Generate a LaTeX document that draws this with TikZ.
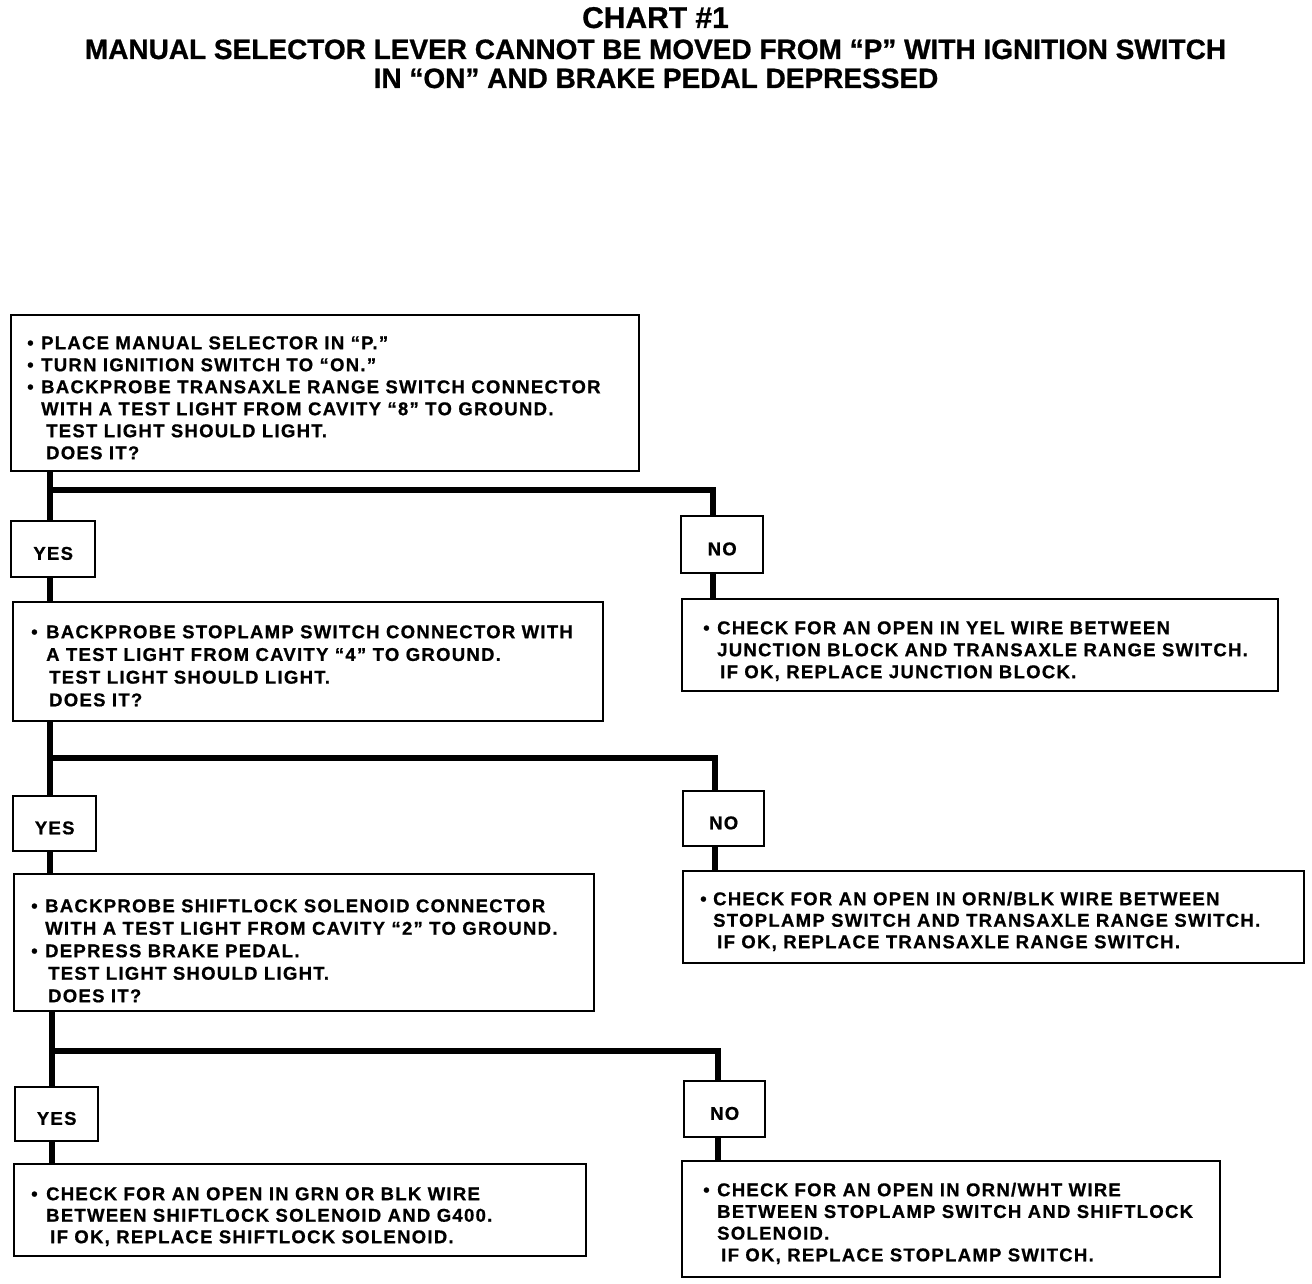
\documentclass[tikz,border=0pt]{standalone}
\usepackage{fontspec}
\setmainfont{Liberation Sans}
\newfontfamily\boxfont[LetterSpace=7.0,FakeBold=0.8]{Liberation Sans}
\newfontfamily\ttlfont[FakeBold=0.8]{Liberation Sans}
\newcommand\bul[2]{\hspace*{#1pt}\makebox[\dimexpr#2pt-#1pt\relax][l]{•}}
\newcommand\ind[1]{\hspace*{#1pt}}
% #1 height, #2 width, #3 top pad, #4 line spacing, #5 lines
\newcommand\btext[5]{\parbox[c][#1pt][t]{#2pt}{\boxfont\bfseries\fontsize{18.5}{#4}\selectfont\lineskiplimit=-50pt\relax\raggedright\parindent=0pt
\vspace*{#3pt}\rule{0pt}{14pt}#5\par}}
\newcommand\yntext[1]{\raisebox{-10.6pt}[0pt][0pt]{#1}}
\tikzset{
  bx/.style={draw, line width=2.4pt, inner sep=0pt, anchor=north west},
  yn/.style={draw, line width=2.4pt, inner sep=0pt, anchor=north west,
    font=\boxfont\bfseries\fontsize{18.5}{22}\selectfont},
  conn/.style={line width=5.5pt, line join=miter},
  ttl/.style={anchor=base, font=\ttlfont\bfseries\fontsize{28}{30}\selectfont},
}
\begin{document}
\begin{tikzpicture}[x=1pt,y=-1pt]
\useasboundingbox (0,0) rectangle (1312,1284);
% title
\node[ttl, font=\ttlfont\bfseries\fontsize{30}{32}\selectfont] (t0) at (655.5,28) {CHART \#1};
\node[ttl] (t1l) at (655.5,59) {MANUAL SELECTOR LEVER CANNOT BE MOVED FROM “P” WITH IGNITION SWITCH};
\node[ttl] (t2l) at (656,88) {IN “ON” AND BRAKE PEDAL DEPRESSED};

% boxes
\node[bx] (B1) at (10,314) {\btext{156}{628}{20}{22}{%
\bul{16}{30}PLACE MANUAL SELECTOR IN “P.”\\
\bul{16}{30}TURN IGNITION SWITCH TO “ON.”\\
\bul{16}{30}BACKPROBE TRANSAXLE RANGE SWITCH CONNECTOR\\
\ind{30}WITH A TEST LIGHT FROM CAVITY “8” TO GROUND.\\
\ind{35}TEST LIGHT SHOULD LIGHT.\\
\ind{35}DOES IT?}};

\node[yn, minimum width=84pt, minimum height=56pt] (Y1) at (10,520) {\yntext{YES}};
\node[yn, minimum width=82pt, minimum height=57pt] (N1) at (680,515) {\yntext{NO}};

\node[bx] (B2) at (12,601) {\btext{119}{590}{22}{22.7}{%
\bul{18}{33}BACKPROBE STOPLAMP SWITCH CONNECTOR WITH\\
\ind{33}A TEST LIGHT FROM CAVITY “4” TO GROUND.\\
\ind{36}TEST LIGHT SHOULD LIGHT.\\
\ind{36}DOES IT?}};

\node[bx] (R1) at (681,598) {\btext{92}{596}{21}{22}{%
\bul{21}{35}CHECK FOR AN OPEN IN YEL WIRE BETWEEN\\
\ind{35}JUNCTION BLOCK AND TRANSAXLE RANGE SWITCH.\\
\ind{38}IF OK, REPLACE JUNCTION BLOCK.}};

\node[yn, minimum width=83pt, minimum height=55pt] (Y2) at (12,795) {\yntext{YES}};
\node[yn, minimum width=81pt, minimum height=55pt] (N2) at (682,790) {\yntext{NO}};

\node[bx] (B3) at (13,873) {\btext{137}{580}{24}{22.5}{%
\bul{17}{31}BACKPROBE SHIFTLOCK SOLENOID CONNECTOR\\
\ind{31}WITH A TEST LIGHT FROM CAVITY “2” TO GROUND.\\
\bul{17}{31}DEPRESS BRAKE PEDAL.\\
\ind{34}TEST LIGHT SHOULD LIGHT.\\
\ind{34}DOES IT?}};

\node[bx] (R2) at (682,870) {\btext{92}{621}{20}{21.5}{%
\bul{17}{30}CHECK FOR AN OPEN IN ORN/BLK WIRE BETWEEN\\
\ind{30}STOPLAMP SWITCH AND TRANSAXLE RANGE SWITCH.\\
\ind{34}IF OK, REPLACE TRANSAXLE RANGE SWITCH.}};

\node[yn, minimum width=83pt, minimum height=54pt] (Y3) at (14,1086) {\yntext{YES}};
\node[yn, minimum width=81pt, minimum height=56pt] (N3) at (683,1080) {\yntext{NO}};

\node[bx] (B4) at (13,1163) {\btext{92}{572}{22}{21.5}{%
\bul{17}{32}CHECK FOR AN OPEN IN GRN OR BLK WIRE\\
\ind{32}BETWEEN SHIFTLOCK SOLENOID AND G400.\\
\ind{36}IF OK, REPLACE SHIFTLOCK SOLENOID.}};

\node[bx] (R3) at (681,1160) {\btext{116}{538}{21}{21.7}{%
\bul{21}{35}CHECK FOR AN OPEN IN ORN/WHT WIRE\\
\ind{35}BETWEEN STOPLAMP SWITCH AND SHIFTLOCK\\
\ind{35}SOLENOID.\\
\ind{39}IF OK, REPLACE STOPLAMP SWITCH.}};

% junctions
\coordinate (a1) at (50,490);  \coordinate (j1) at (713,490);
\coordinate (a2) at (50,758);  \coordinate (j2) at (715,758);
\coordinate (a3) at (52,1051); \coordinate (j3) at (718,1051);

% connectors
\draw[conn] (a1 |- B1.south) -- (a1 |- Y1.north);
\draw[conn] (a1) -- (j1) -- (j1 |- N1.north);
\draw[conn] (a1 |- Y1.south) -- (a1 |- B2.north);
\draw[conn] (j1 |- N1.south) -- (j1 |- R1.north);

\draw[conn] (a2 |- B2.south) -- (a2 |- Y2.north);
\draw[conn] (a2) -- (j2) -- (j2 |- N2.north);
\draw[conn] (a2 |- Y2.south) -- (a2 |- B3.north);
\draw[conn] (j2 |- N2.south) -- (j2 |- R2.north);

\draw[conn] (a3 |- B3.south) -- (a3 |- Y3.north);
\draw[conn] (a3) -- (j3) -- (j3 |- N3.north);
\draw[conn] (a3 |- Y3.south) -- (a3 |- B4.north);
\draw[conn] (j3 |- N3.south) -- (j3 |- R3.north);
\end{tikzpicture}
\end{document}
